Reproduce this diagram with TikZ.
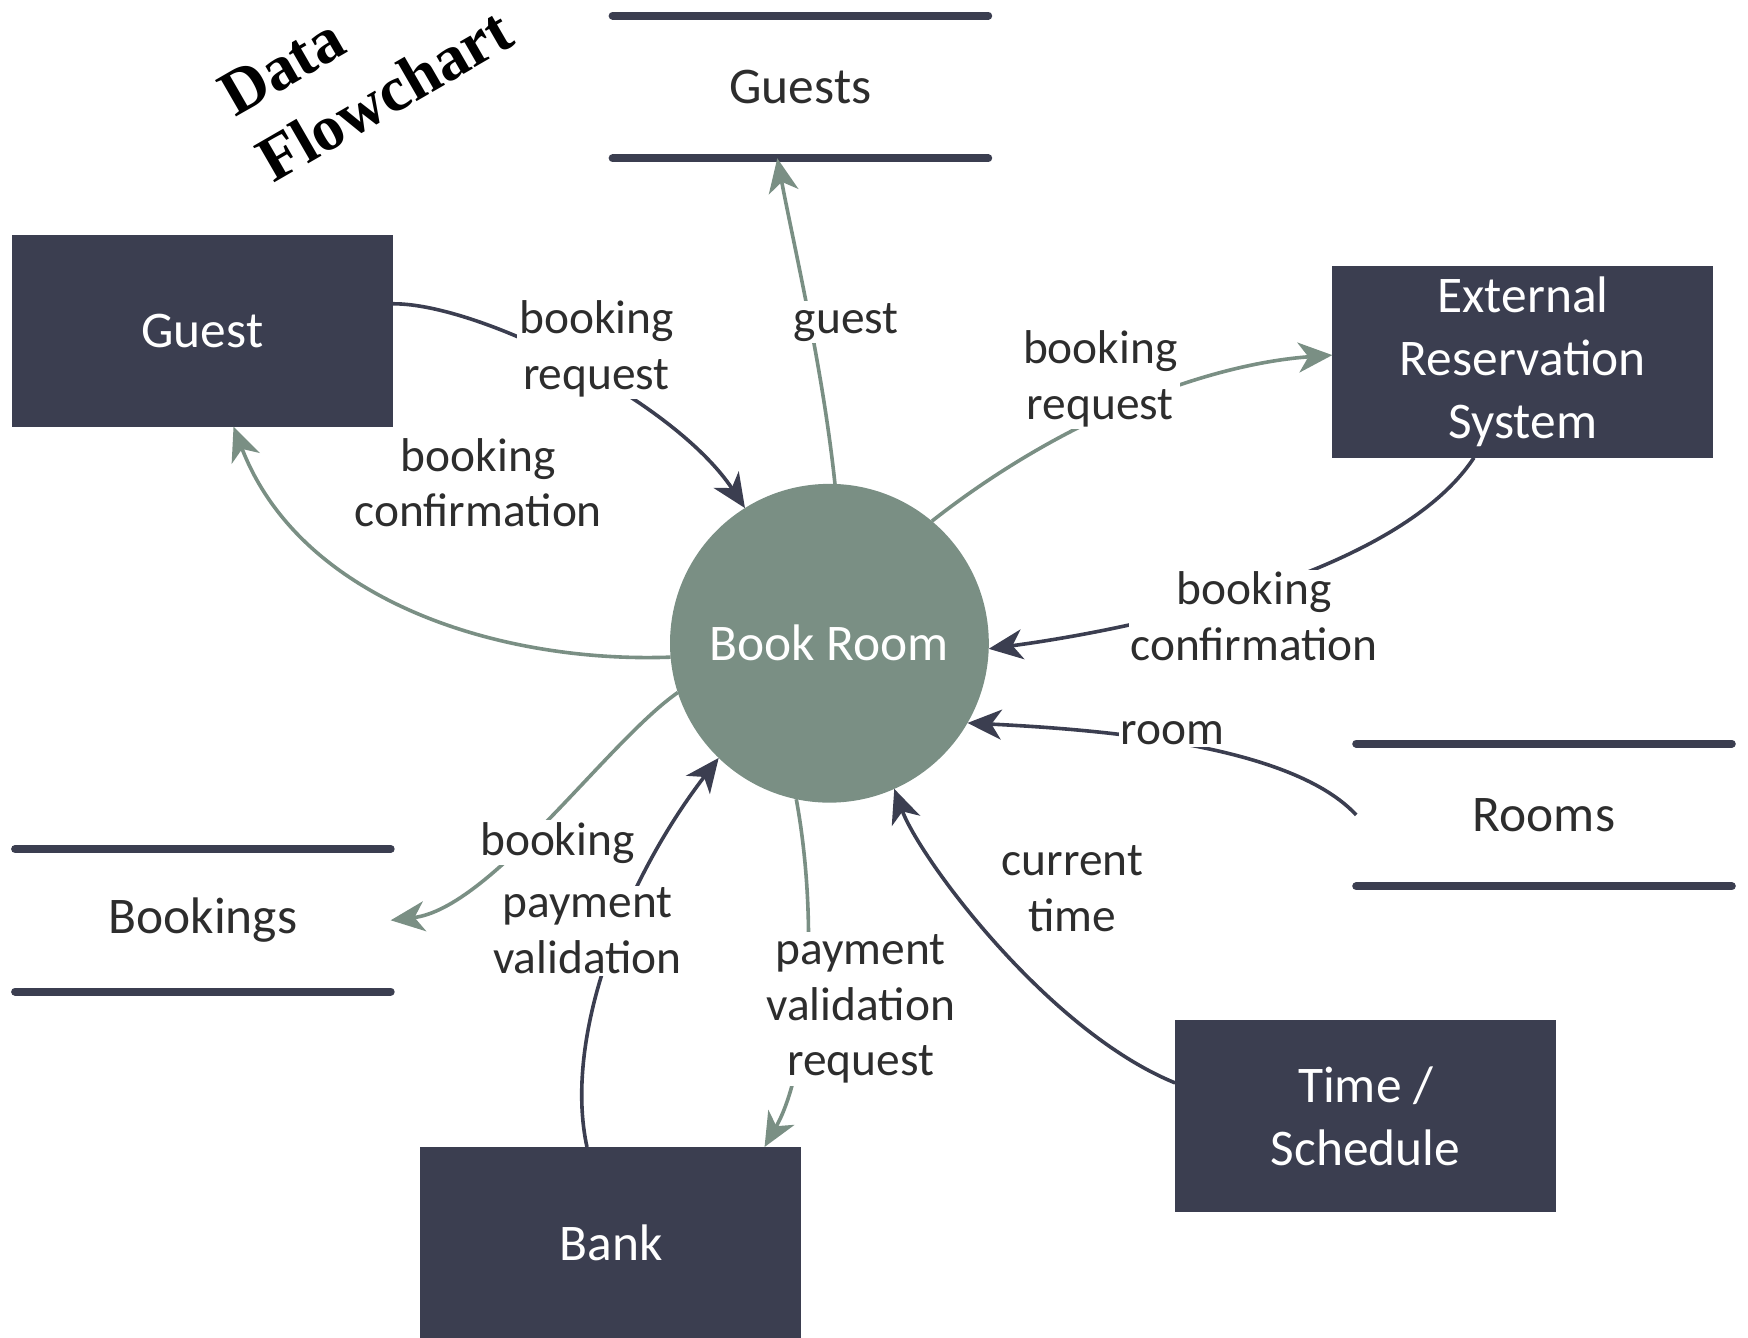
\documentclass[tikz,border=0pt]{standalone}
\usepackage{fontspec}
\setmainfont{Carlito}
\newfontfamily\titlefont{Liberation Serif}
\usetikzlibrary{arrows.meta}
\definecolor{navy}{RGB}{59,62,80}
\definecolor{sage}{RGB}{122,143,132}
\definecolor{inkgray}{RGB}{45,45,45}

\begin{document}
\begin{tikzpicture}[x=0.5574pt,y=0.5574pt,yscale=-1,
  procbox/.style={fill=navy, text=white, minimum width=190.5pt, minimum height=96pt, inner sep=0pt, outer sep=0pt, align=center, font=\fontsize{25.7}{31.5}\selectfont},
  procircle/.style={circle, fill=sage, text=white, minimum size=159.4pt, inner sep=0pt, outer sep=0pt, font=\fontsize{25.7}{31.5}\selectfont},
  store/.style={minimum width=187.8pt, minimum height=71.3pt, inner sep=0pt, outer sep=0pt, text=inkgray, font=\fontsize{25.7}{31.5}\selectfont},
  storeline/.style={navy, line width=4pt, line cap=round},
  flow/.style={line width=1.8pt, -{Stealth[length=17pt,width=15pt,inset=5pt]}},
  dflow/.style={flow, navy},
  gflow/.style={flow, sage},
  lbl/.style={fill=white, text=inkgray, inner sep=1pt, align=center, font=\fontsize{23.7}{27.9}\selectfont}]
\useasboundingbox (0,0) rectangle (1568,1200);

%Shape: Rectangles (external entities)
\node[procbox] (guest) at (181.5,296.5) {Guest};
\node[procbox] (ers) at (1366,324.5) {External\\Reservation\\System};
\node[procbox] (bank) at (548,1115) {Bank};
\node[procbox] (time) at (1225,1001.5) {Time /\\Schedule};
%Shape: Circle (process)
\node[procircle] (book) at (744,577) {Book Room};
%Shape: Data stores
\node[store] (guests) at (718,78) {Guests};
\node[store] (rooms) at (1385,731) {Rooms};
\node[store] (bookings) at (182,825.5) {Bookings};
\foreach \s in {guests,rooms,bookings}
  \draw[storeline] (\s.north west) -- (\s.north east) (\s.south west) -- (\s.south east);

%Curve Lines
\draw[dflow] (guest.8) .. controls (430,272) and (605,360) .. (book.122);
\draw[gflow] (book.88) .. controls (738,330) and (712,220) .. (guests.252);
\draw[gflow] (book.50) .. controls (960,370) and (1090,326) .. (ers.178);
\draw[gflow] (book.185) .. controls (450,595) and (270,540) .. (guest.288);
\draw[dflow] (ers.243) .. controls (1250,520) and (1000,567) .. (book.358);
\draw[dflow] (rooms.west) .. controls (1160,670) and (1000,655) .. (book.330);
\draw[dflow] (time.170) .. controls (940,925) and (825,770) .. (book.294);
\draw[gflow] (book.258) .. controls (735,830) and (725,960) .. (bank.32);
\draw[dflow] (bank.104) .. controls (505,930) and (560,790) .. (book.226);
\draw[gflow] (book.198) .. controls (545,665) and (440,815) .. (bookings.east);

% Text Node
\node[lbl] (lbreq) at (535,313) {booking\\request};
\node[lbl] (lguest) at (759,289) {guest};
\node[lbl] (lbreqx) at (987,340) {booking\\request};
\node[lbl] (lbconf) at (429,433) {booking\\confirmation};
\node[lbl] (lbconfx) at (1125,553) {booking\\confirmation};
\node[lbl] (lroom) at (1052,658) {room};
\node[lbl] (ltime) at (962,797) {current\\time};
\node[lbl] (lbook) at (500,756) {booking};
\node[lbl] (lpay) at (527,835) {payment\\validation};
\node[lbl] (lpayreq) at (772,905) {payment\\validation\\request};
% Text Node
\node[rotate=30, align=left, font=\titlefont\bfseries\fontsize{32}{38.5}\selectfont] (title) at (328,56) {Data\\Flowchart};

\end{tikzpicture}
\end{document}
